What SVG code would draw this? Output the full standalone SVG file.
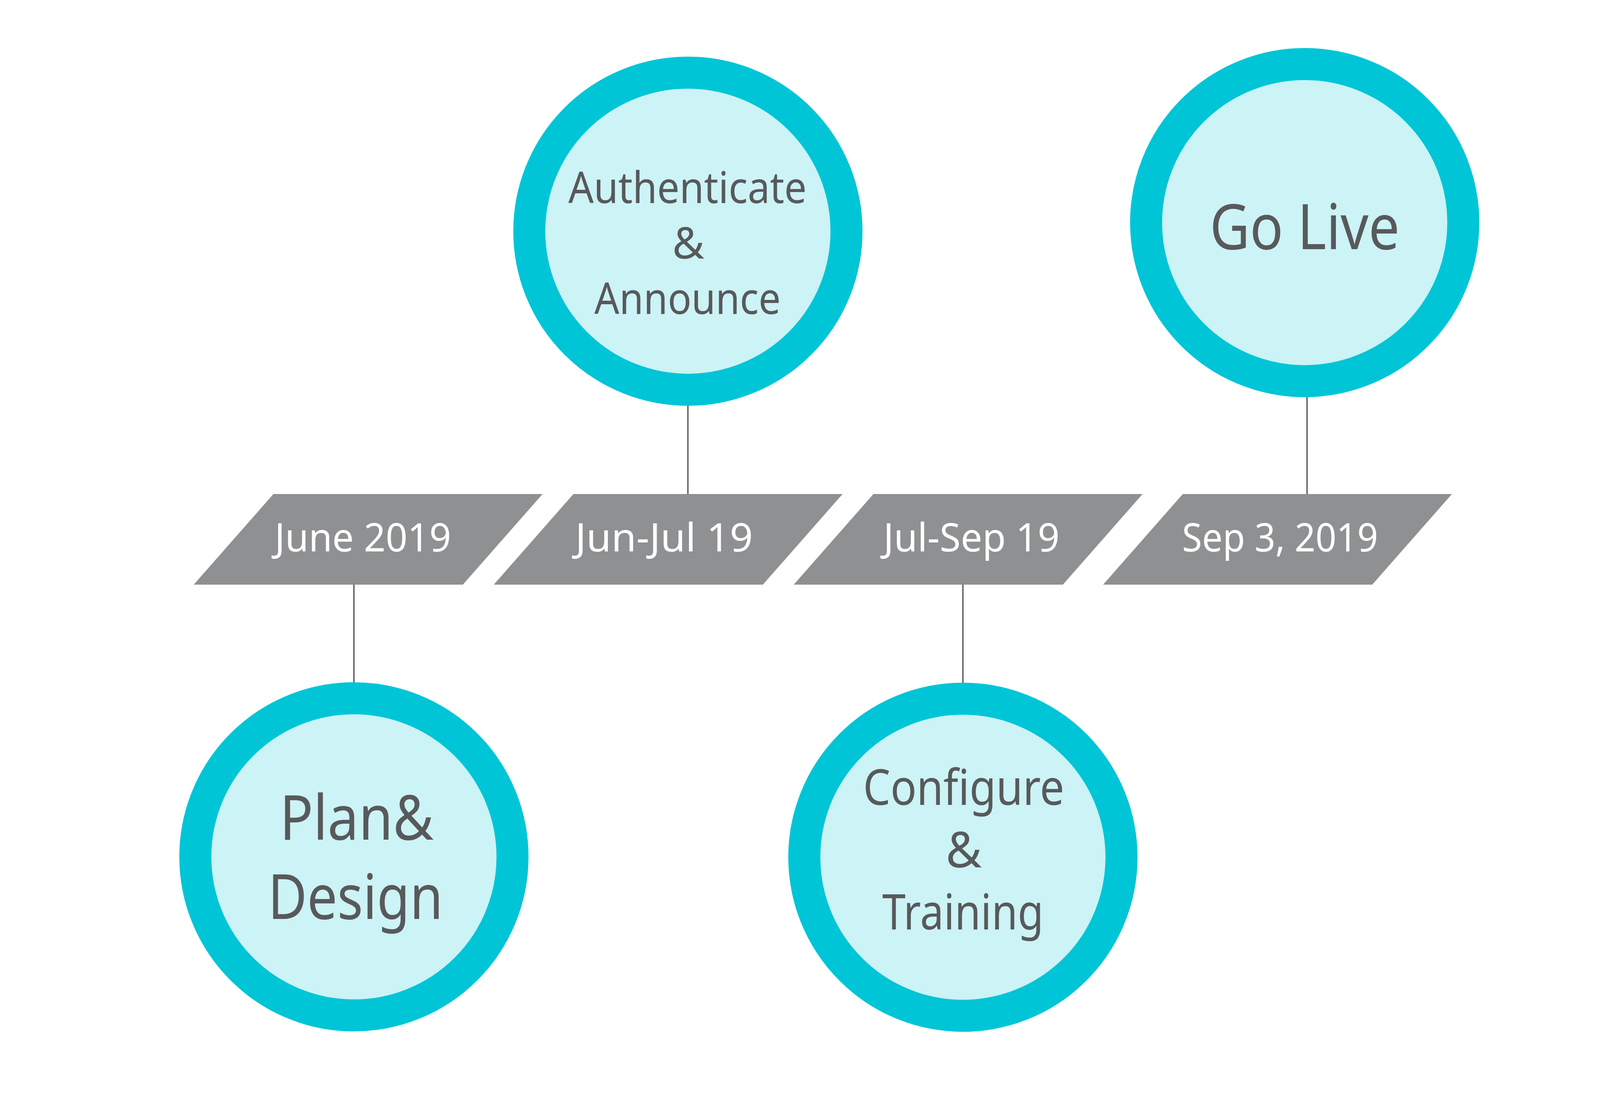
<svg xmlns="http://www.w3.org/2000/svg" width="4161" height="2832" viewBox="0 0 4161 2832">
<style>
.ring{fill:#CCF3F5;stroke:#00C5D7;stroke-width:82}
.tag{fill:#8F9092}
.conn{stroke:#6D6E71;stroke-width:4;fill:none}
.ct{font-family:"Noto Sans","Open Sans","DejaVu Sans",sans-serif;fill:#58595B;text-anchor:middle}
.dt{font-family:"Noto Sans","Open Sans","DejaVu Sans",sans-serif;fill:#FFFFFF;text-anchor:middle;font-size:100px}
</style>
<rect x="0" y="0" width="4161" height="2832" fill="#FFFFFF"/>
<g id="connectors">
<line class="conn" x1="906" y1="1497" x2="906" y2="1749"/>
<line class="conn" x1="1761" y1="1036" x2="1761" y2="1265"/>
<line class="conn" x1="2465" y1="1497" x2="2465" y2="1750"/>
<line class="conn" x1="3346" y1="1015" x2="3346" y2="1265"/>
</g>
<g id="date-june-2019">
<polygon class="tag" points="700,1265 1389,1265 1185,1497 496,1497"/>
<text class="dt" x="929" y="1412" textLength="452" lengthAdjust="spacingAndGlyphs">June 2019</text>
</g>
<g id="date-jun-jul-19">
<polygon class="tag" points="1468,1265 2157,1265 1953,1497 1264,1497"/>
<text class="dt" x="1700" y="1412" textLength="455" lengthAdjust="spacingAndGlyphs">Jun-Jul 19</text>
</g>
<g id="date-jul-sep-19">
<polygon class="tag" points="2236,1265 2925,1265 2721,1497 2032,1497"/>
<text class="dt" x="2487" y="1412" textLength="451" lengthAdjust="spacingAndGlyphs">Jul-Sep 19</text>
</g>
<g id="date-sep-3-2019">
<polygon class="tag" points="3028,1265 3717,1265 3513,1497 2824,1497"/>
<text class="dt" x="3277" y="1412" textLength="502" lengthAdjust="spacingAndGlyphs">Sep 3, 2019</text>
</g>
<g id="node-authenticate">
<circle class="ring" cx="1761" cy="592" r="406"/>
<text class="ct" x="1760" y="520" font-size="112" textLength="610" lengthAdjust="spacingAndGlyphs">Authenticate</text>
<text class="ct" x="1762" y="662" font-size="112">&amp;</text>
<text class="ct" x="1760" y="804" font-size="112" textLength="477" lengthAdjust="spacingAndGlyphs">Announce</text>
</g>
<g id="node-go-live">
<circle class="ring" cx="3340" cy="570" r="406"/>
<text class="ct" x="3340" y="638" font-size="161" textLength="486" lengthAdjust="spacingAndGlyphs">Go Live</text>
</g>
<g id="node-plan-design">
<circle class="ring" cx="906" cy="2194" r="406"/>
<text class="ct" x="913" y="2150" font-size="160" textLength="394" lengthAdjust="spacingAndGlyphs">Plan&amp;</text>
<text class="ct" x="910" y="2353" font-size="160" textLength="448" lengthAdjust="spacingAndGlyphs">Design</text>
</g>
<g id="node-configure-training">
<circle class="ring" cx="2465" cy="2195" r="406"/>
<text class="ct" x="2467" y="2061" font-size="126" textLength="515" lengthAdjust="spacingAndGlyphs">Configure</text>
<text class="ct" x="2467" y="2221" font-size="126">&amp;</text>
<text class="ct" x="2465" y="2380" font-size="126" textLength="413" lengthAdjust="spacingAndGlyphs">Training</text>
</g>
</svg>
